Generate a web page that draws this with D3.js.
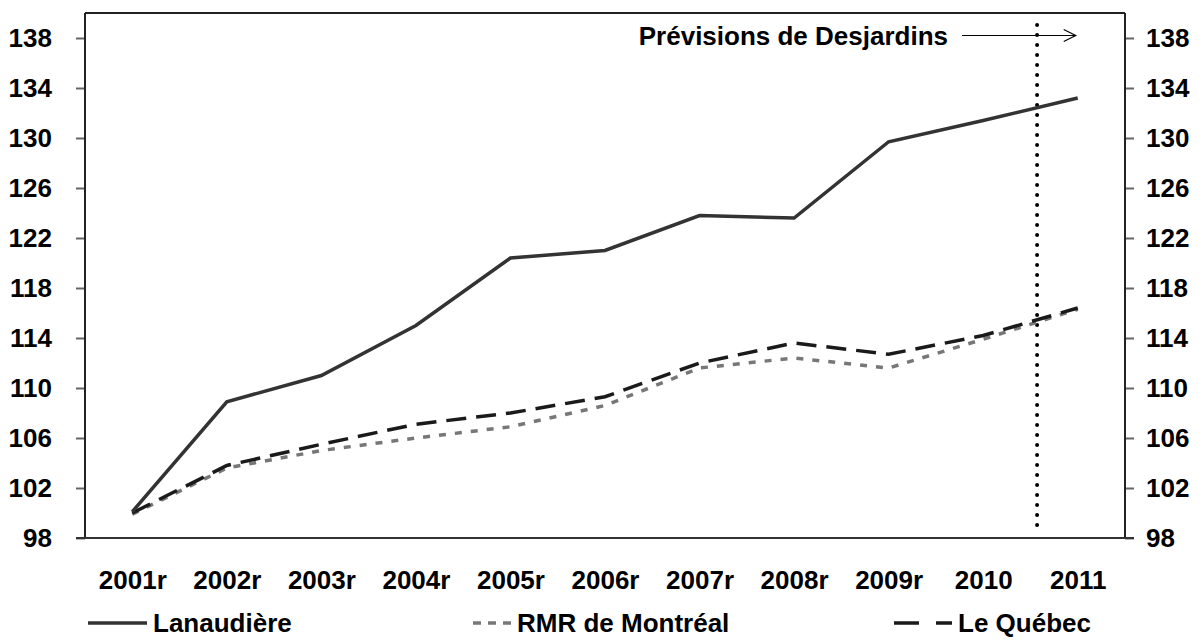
<!DOCTYPE html>
<html>
<head>
<meta charset="utf-8">
<script src="https://cdn.jsdelivr.net/npm/d3@7"></script>
<style>
  body { margin: 0; background: #fff; }
  text { font-family: "Liberation Sans", Arial, sans-serif; font-weight: bold; }
</style>
</head>
<body>
<div id="chart"></div>
<script>
// Data
var years = ["2001r", "2002r", "2003r", "2004r", "2005r", "2006r", "2007r", "2008r", "2009r", "2010", "2011"];
var lanaudiere = [100.1, 108.9, 111.0, 115.0, 120.4, 121.0, 123.8, 123.6, 129.7, 131.4, 133.2];
var montreal = [99.9, 103.6, 105.0, 106.0, 106.9, 108.6, 111.6, 112.4, 111.6, 113.9, 116.3];
var quebec = [100.0, 103.8, 105.5, 107.1, 108.0, 109.3, 112.0, 113.6, 112.7, 114.2, 116.4];
var yTicks = [98, 102, 106, 110, 114, 118, 122, 126, 130, 134, 138];
var forecastLabel = "Prévisions de Desjardins";
var forecastAt = 9.57; // position in category steps from 2001r

// Dimensions and margins
var margin = {top: 13, right: 78, bottom: 102, left: 85},
    width = 1203 - margin.left - margin.right,
    height = 640 - margin.top - margin.bottom;

var svg = d3.select("#chart")
    .append("svg")
    .attr("width", 1203)
    .attr("height", 640)
    .append("g")
    .attr("transform", "translate(" + margin.left + "," + margin.top + ")");

// Scales
var x = d3.scalePoint()
    .domain(years)
    .range([0, width])
    .padding(0.5);

var y = d3.scaleLinear()
    .domain([98, 140])
    .range([height, 0]);

// Top border
svg.append("line")
    .attr("x1", 0).attr("x2", width)
    .attr("y1", 0).attr("y2", 0)
    .attr("stroke", "#222").attr("stroke-width", 2);

// Left and right axes
var yAxisLeft = svg.append("g")
    .call(d3.axisLeft(y).tickValues(yTicks).tickSize(9).tickPadding(24));
var yAxisRight = svg.append("g")
    .attr("transform", "translate(" + width + ",0)")
    .call(d3.axisRight(y).tickValues(yTicks).tickSize(9).tickPadding(12));

[yAxisLeft, yAxisRight].forEach(function (ax) {
    ax.select(".domain").remove();
    ax.selectAll(".tick line").attr("stroke", "#666").attr("stroke-width", 2);
    ax.selectAll(".tick text").attr("fill", "#000").style("font-size", "26px");
});
svg.append("line")
    .attr("x1", 0).attr("x2", 0).attr("y1", 0).attr("y2", height)
    .attr("stroke", "#222").attr("stroke-width", 2);
svg.append("line")
    .attr("x1", width).attr("x2", width).attr("y1", 0).attr("y2", height)
    .attr("stroke", "#222").attr("stroke-width", 2);

// Bottom axis
var xAxis = svg.append("g")
    .attr("transform", "translate(0," + height + ")")
    .call(d3.axisBottom(x).tickSize(0).tickPadding(33));
xAxis.select(".domain").remove();
xAxis.selectAll("text").attr("fill", "#000").style("font-size", "26px");
svg.append("line")
    .attr("x1", -9).attr("x2", width + 9).attr("y1", height).attr("y2", height)
    .attr("stroke", "#333").attr("stroke-width", 2);

// Forecast marker
var step = x.step();
var fx = x(years[0]) + forecastAt * step;
svg.append("line")
    .attr("x1", fx).attr("x2", fx)
    .attr("y1", 12).attr("y2", height - 6)
    .attr("stroke", "#000")
    .attr("stroke-width", 4)
    .attr("stroke-linecap", "round")
    .attr("stroke-dasharray", "0,10");

// Series lines
var line = d3.line()
    .x(function (d, i) { return x(years[i]); })
    .y(function (d) { return y(d); });

svg.append("path").datum(montreal)
    .attr("fill", "none").attr("stroke", "#777").attr("stroke-width", 3.5)
    .attr("stroke-dasharray", "7,9")
    .attr("d", line);

svg.append("path").datum(quebec)
    .attr("fill", "none").attr("stroke", "#1a1a1a").attr("stroke-width", 3.5)
    .attr("stroke-dasharray", "20,10")
    .attr("d", line);

svg.append("path").datum(lanaudiere)
    .attr("fill", "none").attr("stroke", "#333").attr("stroke-width", 3.5)
    .attr("d", line);

// Forecast annotation
var ay = y(138.2);
var ax2 = x("2011") - 2;
svg.append("text")
    .attr("x", 863).attr("y", ay)
    .attr("dy", "0.35em")
    .attr("text-anchor", "end")
    .style("font-size", "26px")
    .text(forecastLabel);
svg.append("line")
    .attr("x1", 877).attr("x2", ax2)
    .attr("y1", ay).attr("y2", ay)
    .attr("stroke", "#000").attr("stroke-width", 1.2);
svg.append("path")
    .attr("d", "M" + (ax2 - 12) + "," + (ay - 6) + "L" + ax2 + "," + ay + "L" + (ax2 - 12) + "," + (ay + 6))
    .attr("fill", "none").attr("stroke", "#000").attr("stroke-width", 1.2);

// Legend
var legend = [
    {name: "Lanaudière", color: "#333", dash: null, x: 88, len: 59},
    {name: "RMR de Montréal", color: "#777", dash: "8,7", x: 473, len: 38},
    {name: "Le Québec", color: "#1a1a1a", dash: "25,17,16", x: 894, len: 58}
];
var lg = d3.select("svg").append("g");
legend.forEach(function (d) {
    lg.append("line")
        .attr("x1", d.x).attr("x2", d.x + d.len)
        .attr("y1", 623).attr("y2", 623)
        .attr("stroke", d.color).attr("stroke-width", 3.5)
        .attr("stroke-dasharray", d.dash);
    lg.append("text")
        .attr("x", d.x + d.len + 6).attr("y", 623)
        .attr("dy", "0.35em")
        .style("font-size", "26px")
        .text(d.name);
});
</script>
</body>
</html>
